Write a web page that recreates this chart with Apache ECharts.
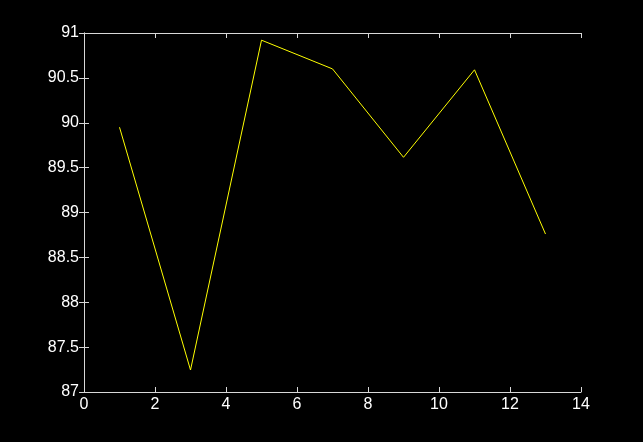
<!DOCTYPE html>
<html><head><meta charset="utf-8">
<script src="https://cdn.jsdelivr.net/npm/echarts@6/dist/echarts.min.js"></script>
<style>html,body{margin:0;padding:0;background:#000;}#c{width:643px;height:442px;}</style>
</head><body><div id="c"></div>
<script>
const xValues = [1, 3, 5, 7, 9, 11, 13];
const yValues = [89.95, 87.245, 90.92, 90.6, 89.615, 90.59, 88.76];
const xTicks = [0, 2, 4, 6, 8, 10, 12, 14];
const yTicks = [87, 87.5, 88, 88.5, 89, 89.5, 90, 90.5, 91];

const chart = echarts.init(document.getElementById('c'), null, {renderer: 'canvas'});
const axisColor = '#d8d8d8';
const font = {color: '#ffffff', fontSize: 16, fontFamily: 'Liberation Sans, Arial, sans-serif'};
const baseX = {
  type: 'value', min: xTicks[0], max: xTicks[xTicks.length - 1], interval: 2,
  axisLine: {show: true, lineStyle: {color: axisColor, width: 1}},
  axisTick: {show: true, inside: true, length: 5, lineStyle: {color: axisColor}},
  splitLine: {show: false}
};
const baseY = {
  type: 'value', min: yTicks[0], max: yTicks[yTicks.length - 1], interval: 0.5,
  axisLine: {show: true, lineStyle: {color: axisColor, width: 1}},
  axisTick: {show: true, inside: true, length: 5, lineStyle: {color: axisColor}},
  splitLine: {show: false}
};
chart.setOption({
  backgroundColor: '#000000',
  animation: false,
  grid: {left: 84, top: 33, right: 62, bottom: 50},
  xAxis: [
    Object.assign({}, baseX, {position: 'bottom', axisLabel: Object.assign({margin: 5, formatter: v => String(v)}, font)}),
    Object.assign({}, baseX, {position: 'top', axisLabel: {show: false}})
  ],
  yAxis: [
    Object.assign({}, baseY, {position: 'left', axisLabel: Object.assign({margin: 5, formatter: v => String(v)}, font)}),
    Object.assign({}, baseY, {position: 'right', axisLabel: {show: false}})
  ],
  series: [{
    type: 'line',
    data: xValues.map((x, i) => [x, yValues[i]]),
    showSymbol: false,
    lineStyle: {color: '#ffff00', width: 1},
    itemStyle: {color: '#ffff00'}
  }]
});
</script></body></html>
